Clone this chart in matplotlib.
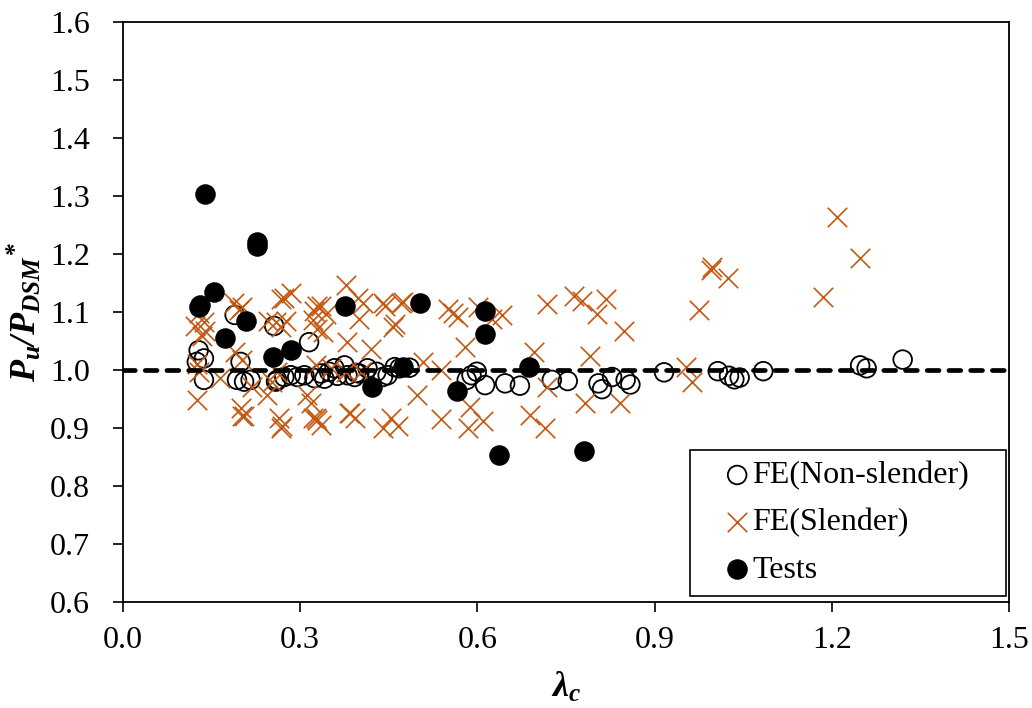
import matplotlib
matplotlib.use("Agg")
import matplotlib.pyplot as plt

# ---- data ----
ns_x = [0.128, 0.137, 0.125, 0.137, 0.189, 0.199, 0.193, 0.205, 0.216, 0.256,
        0.259, 0.261, 0.273, 0.284, 0.295, 0.315, 0.324, 0.307, 0.335, 0.349,
        0.358, 0.375, 0.380, 0.392, 0.400, 0.414, 0.429, 0.440, 0.460, 0.468,
        0.485, 0.448, 0.341, 0.363, 0.395, 0.582, 0.590, 0.599, 0.613, 0.647,
        0.672, 0.726, 0.753, 0.805, 0.811, 0.828, 0.851, 0.859, 0.916, 1.007,
        1.026, 1.035, 1.044, 1.084, 1.248, 1.259, 1.320]
ns_y = [1.034, 1.020, 1.014, 0.983, 1.095, 1.014, 0.983, 0.980, 0.983, 1.076,
        0.980, 0.983, 0.988, 0.991, 0.988, 1.048, 0.986, 0.991, 0.994, 0.997,
        1.003, 1.008, 0.991, 0.988, 0.994, 1.003, 0.997, 0.988, 1.005, 1.003,
        1.004, 0.991, 0.985, 0.990, 0.995, 0.983, 0.991, 0.997, 0.974, 0.977,
        0.973, 0.983, 0.981, 0.977, 0.967, 0.988, 0.983, 0.975, 0.996, 0.998,
        0.990, 0.984, 0.987, 0.998, 1.008, 1.003, 1.018]

sl_x = [0.128, 0.137, 0.139, 0.188, 0.202, 0.190, 0.125, 0.128, 0.125, 0.165,
        0.202, 0.199, 0.202, 0.219, 0.244, 0.264, 0.267, 0.284, 0.267, 0.259,
        0.267, 0.276, 0.253, 0.261, 0.318, 0.321, 0.329, 0.246, 0.272, 0.196,
        0.122, 0.133, 0.321, 0.204, 0.269, 0.328, 0.384,
        0.378, 0.335, 0.324, 0.344, 0.329, 0.338, 0.397, 0.406, 0.400, 0.457,
        0.460, 0.440, 0.471, 0.380, 0.420, 0.327, 0.352, 0.378, 0.403, 0.508,
        0.539, 0.312, 0.497, 0.327, 0.335, 0.383, 0.392, 0.454, 0.440, 0.465,
        0.539, 0.584, 0.610,
        0.443, 0.474, 0.550, 0.559, 0.567, 0.579, 0.587, 0.601, 0.641, 0.624,
        0.718, 0.763, 0.777, 0.818, 0.803, 0.848, 0.695, 0.790, 0.718, 0.783,
        0.842, 0.689, 0.714,
        0.953, 0.964, 0.976, 0.995, 0.998, 1.024, 1.185, 1.209, 1.247]
sl_y = [1.099, 1.082, 1.068, 1.116, 1.108, 1.031, 1.011, 0.997, 0.949, 0.986,
        1.017, 0.934, 0.920, 0.971, 0.957, 0.917, 0.900, 1.133, 1.122, 1.082,
        1.074, 1.085, 0.980, 0.997, 0.943, 0.917, 1.111, 1.085, 1.124, 1.104,
        1.076, 1.059, 1.086, 0.920, 0.903, 0.913, 0.926,
        1.147, 1.111, 1.102, 1.096, 1.071, 1.065, 1.125, 1.116, 1.088, 1.074,
        1.080, 1.116, 1.116, 1.048, 1.037, 1.009, 1.003, 0.997, 0.997, 1.014,
        1.000, 0.957, 0.957, 0.917, 0.906, 0.926, 0.917, 0.917, 0.900, 0.903,
        0.915, 0.900, 0.912,
        1.111, 1.117, 1.105, 1.099, 1.091, 1.040, 0.937, 1.108, 1.094, 1.088,
        1.113, 1.128, 1.119, 1.122, 1.096, 1.068, 1.031, 1.025, 0.971, 0.943,
        0.943, 0.923, 0.900,
        1.006, 0.980, 1.103, 1.173, 1.178, 1.159, 1.126, 1.264, 1.193]

t_x = [0.138, 0.226, 0.226, 0.154, 0.128, 0.130, 0.209, 0.173, 0.254, 0.284,
       0.375, 0.502, 0.613, 0.613, 0.474, 0.422, 0.565, 0.636, 0.688, 0.780]
t_y = [1.304, 1.220, 1.213, 1.134, 1.108, 1.112, 1.084, 1.056, 1.022, 1.034,
       1.110, 1.115, 1.102, 1.062, 1.005, 0.971, 0.964, 0.853, 1.006, 0.860]

x_ticks = [0.0, 0.3, 0.6, 0.9, 1.2, 1.5]
y_ticks = [0.6, 0.7, 0.8, 0.9, 1.0, 1.1, 1.2, 1.3, 1.4, 1.5, 1.6]

# ---- style ----
plt.rcParams['font.family'] = ['Liberation Serif', 'DejaVu Serif']
plt.rcParams['mathtext.fontset'] = 'custom'
plt.rcParams['mathtext.rm'] = 'Liberation Serif:bold:italic'
plt.rcParams['mathtext.it'] = 'Liberation Serif:bold:italic'
plt.rcParams['mathtext.bf'] = 'Liberation Serif:bold:italic'

orange = '#C65911'

fig = plt.figure(figsize=(10.32, 7.08), dpi=100)
ax = fig.add_axes([0.1192, 0.1497, 0.8585, 0.8192])

ax.scatter(ns_x, ns_y, s=180, facecolors='none', edgecolors='black',
           linewidths=1.3, zorder=2, label='FE(Non-slender)')
ax.scatter(sl_x, sl_y, s=195, marker='x', color=orange,
           linewidths=1.2, zorder=3, label='FE(Slender)')
ax.plot([0.0, 1.5], [1.0, 1.0], color='black', lw=3.4,
        dashes=(2.5, 2.1), dash_capstyle='round', zorder=3.5)
ax.scatter(t_x, t_y, s=190, color='black', zorder=4, label='Tests')

ax.set_xlim(0.0, 1.5)
ax.set_ylim(0.6, 1.6)
ax.set_xticks(x_ticks)
ax.set_xticklabels([f'{v:.1f}' for v in x_ticks])
ax.set_yticks(y_ticks)
ax.set_yticklabels([f'{v:.1f}' for v in y_ticks])
ax.tick_params(direction='out', length=7, width=1.2, labelsize=23)
ax.tick_params(axis='y', pad=17)
ax.tick_params(axis='x', pad=10)
for sp in ax.spines.values():
    sp.set_linewidth(1.3)
    sp.set_color('black')

ax.set_xlabel(r'$\lambda_c$', fontsize=26, labelpad=12)
ax.set_ylabel(r'$P_u/P_{DSM}{}^{*}$', fontsize=26, labelpad=4)

leg = ax.legend(loc='lower left', bbox_to_anchor=(0.640, 0.0103, 0.3566, 0.26),
                mode='expand', fontsize=23, frameon=True, fancybox=False,
                edgecolor='black', framealpha=1, borderpad=0.35,
                handlelength=2.25, handletextpad=-0.65, labelspacing=0.56,
                borderaxespad=0)
leg.get_frame().set_linewidth(1.2)

fig.savefig('out.png', dpi=100)
